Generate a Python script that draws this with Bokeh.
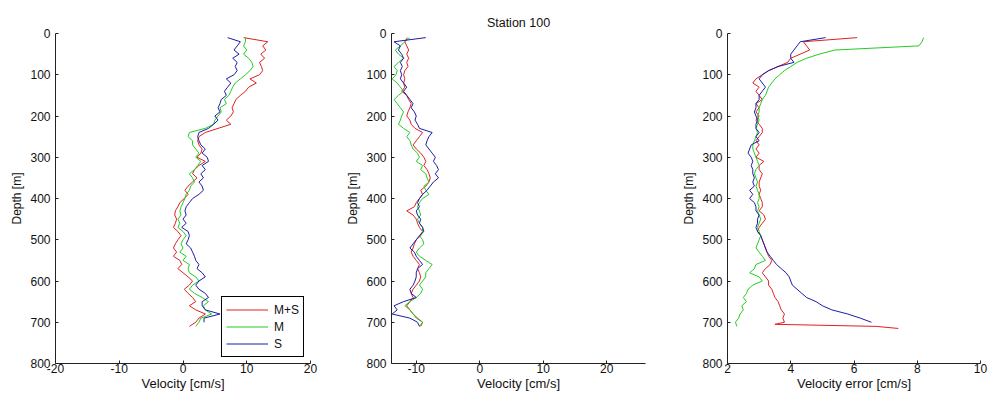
from bokeh.plotting import figure
from bokeh.layouts import row
from bokeh.models import Range1d, FixedTicker
from bokeh.embed import file_html
from bokeh.resources import INLINE

FONT = "Liberation Sans"

# ---------------- data ----------------
depth = list(range(10, 720, 10))          # sampling depths [m]
depth_tail_err = [705, 710, 715]          # extra depths at bottom of M+S error profile

labels = ["M+S", "M", "S"]
colors = ["#e02020", "#22cc22", "#1c1ca8"]

vel_ms = [9.5, 13.3, 12.5, 13.0, 12.2, 12.8, 12.0, 12.3, 12.5, 12.0,
          10.5, 11.5, 10.3, 9.8, 9.0, 8.3, 8.0, 7.7, 7.9, 7.5,
          6.8, 7.5, 5.5, 3.5, 2.5, 2.3, 2.5, 3.0, 2.8, 2.2,
          3.5, 2.5, 1.8, 1.5, 2.2, 1.5, 0.8, 0.3, 0.8, 0.2,
          -0.5, -0.8, -1.2, -1.3, -1.0, -1.2, -1.5, -0.8, -0.3, -0.8,
          -1.2, -1.5, -1.0, -1.5, -0.5, -0.2, -0.8, 0.0, 0.8, 1.5,
          1.0, 0.2, 0.8, 1.5, 2.0, 1.0, 2.0, 3.5, 2.5, 2.0,
          1.0]
vel_m = [9.8, 9.8, 9.5, 10.0, 9.5, 10.3, 10.8, 11.0, 10.5, 9.8,
         9.0, 8.2, 7.8, 7.5, 7.2, 6.5, 6.8, 5.8, 6.0, 5.5,
         5.0, 4.8, 3.5, 1.0, 0.8, 1.5, 1.5, 2.0, 2.5, 2.0,
         2.8, 2.3, 1.8, 1.0, 1.5, 1.8, 1.2, 1.0, 0.5, 0.3,
         0.0, -0.3, -0.5, -0.3, -0.8, -0.5, -0.8, 0.0, 0.5, 0.0,
         -0.3, 0.0, -0.5, 0.5, 0.0, 1.0, 0.8, 1.0, 2.0, 2.5,
         1.5, 1.0, 1.8, 3.0, 4.0, 3.2, 3.5, 4.5, 2.8, 2.5,
         2.0]
vel_s = [7.0, 9.0, 8.5, 8.0, 8.8, 7.8, 8.5, 8.2, 8.5, 8.0,
         6.8, 7.5, 7.0, 6.5, 6.8, 6.0, 5.8, 5.5, 5.8, 5.0,
         5.5, 4.8, 4.0, 2.5, 2.3, 2.5, 2.8, 3.5, 3.0, 3.8,
         4.0, 3.0, 3.5, 2.8, 3.2, 2.5, 3.0, 3.2, 2.5, 1.5,
         1.0, 0.5, 0.3, 0.5, 0.0, 0.5, -0.2, 0.8, 1.0, 0.8,
         0.5, 1.2, 1.5, 1.8, 2.0, 2.5, 2.2, 3.0, 3.5, 2.5,
         2.0, 2.5, 3.5, 4.0, 3.0, 3.0, 3.5, 5.8, 3.3, 3.3]

vel2_ms = [-11.4, -11.8, -11.5, -11.2, -11.5, -11.2, -11.5, -11.3, -11.8, -12.0,
           -11.8, -12.0, -11.8, -12.3, -11.5, -11.2, -10.8, -11.0, -11.3, -11.5,
           -11.0, -10.8, -10.2, -9.0, -9.5, -10.0, -10.5, -10.0, -9.3, -8.8,
           -8.5, -8.8, -8.3, -8.0, -7.8, -8.0, -8.5, -9.3, -9.0, -9.5,
           -10.0, -10.3, -11.5, -10.5, -10.0, -9.8, -9.5, -9.0, -9.3, -10.0,
           -10.3, -10.5, -10.8, -10.5, -10.0, -9.5, -9.8, -9.5, -9.3, -9.5,
           -10.0, -10.5, -10.8, -10.5, -11.0, -11.5, -11.0, -10.5, -9.8, -9.0,
           -9.3]
vel2_m = [-11.0, -11.8, -12.5, -13.3, -12.8, -12.0, -12.8, -13.5, -13.0, -13.2,
          -13.8, -13.0, -12.5, -12.0, -12.8, -13.5, -13.0, -12.5, -12.0, -12.3,
          -12.5, -12.8, -12.0, -11.0, -11.5, -11.0, -10.8, -10.5, -9.8, -9.5,
          -10.0, -9.0, -9.3, -8.5, -8.3, -8.0, -8.8, -8.5, -8.0, -9.0,
          -9.5, -9.8, -9.5, -9.3, -9.8, -9.5, -9.0, -9.0, -9.5, -9.0,
          -8.8, -9.5, -10.0, -9.5, -8.5, -7.5, -8.0, -8.5, -8.5, -9.0,
          -9.5, -9.0, -9.3, -10.0, -11.0, -11.8, -11.0, -10.5, -10.0, -9.0,
          -9.5]
vel2_s = [-8.5, -13.5, -12.5, -12.8, -12.3, -12.0, -12.5, -12.2, -12.5, -12.3,
          -12.5, -12.0, -11.5, -12.0, -11.5, -11.0, -10.5, -10.8, -10.3, -10.0,
          -10.2, -9.8, -9.5, -7.5, -8.0, -8.3, -8.5, -8.0, -7.5, -7.0,
          -7.3, -6.8, -6.5, -7.0, -6.5, -7.3, -7.8, -8.3, -9.0, -9.5,
          -9.8, -9.5, -10.0, -9.8, -9.3, -9.5, -9.0, -8.8, -9.5, -10.0,
          -10.5, -11.0, -10.3, -10.0, -9.5, -9.0, -9.8, -10.0, -10.0, -10.2,
          -10.5, -11.0, -10.8, -10.0, -12.0, -13.5, -13.0, -13.8, -11.0, -9.8,
          -9.5]

err_ms = [6.1, 4.4, 4.5, 4.6, 4.3, 4.0, 3.9, 3.6, 3.3, 3.1,
          2.9, 2.8, 3.0, 2.9, 3.0, 3.1, 2.9, 3.0, 2.9, 3.0,
          2.9, 3.0, 3.1, 3.1, 3.0, 2.9, 3.0, 2.9, 3.0, 2.9,
          3.15, 3.0, 3.0, 3.1, 3.05, 3.0, 3.0, 3.05, 3.0, 3.05,
          3.1, 3.1, 3.0, 3.15, 3.2, 3.1, 3.0, 2.95, 3.05, 3.1,
          3.15, 3.2, 3.25, 3.3, 3.4, 3.35, 3.2, 3.1, 3.2, 3.3,
          3.3, 3.4, 3.45, 3.5, 3.6, 3.65, 3.7, 3.8, 3.75, 3.8]
err_ms_tail = [3.5, 6.7, 7.4]
err_m = [8.2, 8.15, 8.05, 5.4, 4.9, 4.5, 4.2, 4.0, 3.8, 3.65,
         3.5, 3.4, 3.3, 3.25, 3.2, 3.1, 3.05, 3.0, 3.0, 2.95,
         3.0, 2.95, 2.9, 2.95, 2.9, 2.85, 2.8, 2.8, 2.85, 2.9,
         2.95, 3.0, 2.9, 2.85, 2.9, 2.95, 2.9, 2.95, 3.0, 3.0,
         2.95, 3.0, 2.95, 3.0, 3.05, 3.0, 2.95, 3.0, 3.05, 3.0,
         2.95, 2.9, 3.0, 3.1, 3.2, 2.9, 2.85, 2.7, 3.0, 3.1,
         2.8, 2.65, 2.6, 2.5, 2.6, 2.45, 2.5, 2.4, 2.35, 2.25,
         2.3]
err_s = [5.1, 4.3, 4.2, 4.1, 4.0, 4.0, 4.1, 3.6, 3.3, 3.1,
         3.0, 3.1, 3.2, 3.1, 3.0, 3.0, 2.9, 2.9, 2.85, 2.9,
         2.95, 2.9, 2.9, 3.0, 2.9, 3.0, 2.75, 2.7, 2.65, 2.75,
         2.8, 2.75, 2.8, 2.8, 2.85, 2.8, 2.85, 2.7, 2.8, 2.7,
         2.85, 2.9, 2.9, 3.0, 2.95, 2.95, 2.9, 2.95, 3.05, 3.1,
         3.15, 3.2, 3.25, 3.35, 3.45, 3.55, 3.7, 3.85, 3.95, 4.0,
         4.05, 4.2, 4.35, 4.5, 4.8, 5.0, 5.3, 5.8, 6.2, 6.55]

depth_ticks = [0, 100, 200, 300, 400, 500, 600, 700, 800]
x1_ticks = [-20, -10, 0, 10, 20]
x2_ticks = [-10, 0, 10, 20]
x3_ticks = [2, 4, 6, 8, 10]

TXT = "#111111"


def make_fig(width, bl, br, xr, xticks, xlabel, title=None):
    p = figure(width=width, height=397, x_range=Range1d(*xr), y_range=Range1d(800, 0),
               output_backend="svg", toolbar_location=None, title=title,
               min_border_left=bl, min_border_right=br,
               min_border_top=33, min_border_bottom=34)
    p.grid.visible = False
    p.outline_line_color = None
    p.background_fill_color = "white"
    p.border_fill_color = "white"
    p.xaxis.ticker = FixedTicker(ticks=xticks)
    p.xaxis.major_label_overrides = {t: str(t) for t in xticks}
    p.yaxis.ticker = FixedTicker(ticks=depth_ticks)
    for ax in (p.xaxis[0], p.yaxis[0]):
        ax.major_tick_in = 3
        ax.major_tick_out = 0
        ax.minor_tick_line_color = None
        ax.axis_line_color = "#222222"
        ax.major_tick_line_color = "#222222"
        ax.major_label_text_font = FONT
        ax.major_label_text_font_size = "12px"
        ax.major_label_text_color = TXT
        ax.axis_label_text_font = FONT
        ax.axis_label_text_font_style = "normal"
        ax.axis_label_text_color = TXT
    p.xaxis.axis_label = xlabel
    p.xaxis.axis_label_text_font_size = "13px"
    p.yaxis.axis_label = "Depth [m]"
    p.yaxis.axis_label_text_font_size = "12px"
    p.xaxis.major_label_standoff = 0
    p.xaxis.axis_label_standoff = 0
    p.yaxis.major_label_standoff = 5
    p.yaxis.axis_label_standoff = 3
    return p


# Panel 1: velocity
p1 = make_fig(340, 55, 30, (-20, 20), x1_ticks, "Velocity [cm/s]")
p1.line(vel_ms, depth, line_color=colors[0], line_width=1, legend_label=labels[0])
p1.line(vel_m, depth, line_color=colors[1], line_width=1, legend_label=labels[1])
p1.line(vel_s, depth[:len(vel_s)], line_color=colors[2], line_width=1, legend_label=labels[2])
lg = p1.legend[0]
lg.location = "bottom_right"
lg.margin = 6
lg.padding = 4
lg.spacing = 0
lg.glyph_width = 42
lg.glyph_height = 17
lg.label_height = 17
lg.label_standoff = 6
lg.label_text_font = FONT
lg.label_text_font_size = "12px"
lg.label_text_color = TXT
lg.border_line_color = "black"
lg.border_line_width = 1
lg.border_line_alpha = 1
lg.background_fill_alpha = 1

# Panel 2: velocity (second component)
p2 = make_fig(336, 51, 31, (-13.9, 26.1), x2_ticks, "Velocity [cm/s]", title="Station 100")
p2.title.align = "center"
p2.title.text_font = FONT
p2.title.text_font_size = "12.5px"
p2.title.text_font_style = "normal"
p2.title.text_color = TXT
p2.title.standoff = 8
p2.line(vel2_ms, depth, line_color=colors[0], line_width=1)
p2.line(vel2_m, depth, line_color=colors[1], line_width=1)
p2.line(vel2_s, depth, line_color=colors[2], line_width=1)

# Panel 3: velocity error
p3 = make_fig(312, 51, 8, (2, 10), x3_ticks, "Velocity error [cm/s]")
p3.line(err_ms + err_ms_tail, depth[:len(err_ms)] + depth_tail_err, line_color=colors[0], line_width=1)
p3.line(err_m, depth, line_color=colors[1], line_width=1)
p3.line(err_s, depth[:len(err_s)], line_color=colors[2], line_width=1)

layout = row(p1, p2, p3)
open("out.html", "w").write(file_html(layout, INLINE))
